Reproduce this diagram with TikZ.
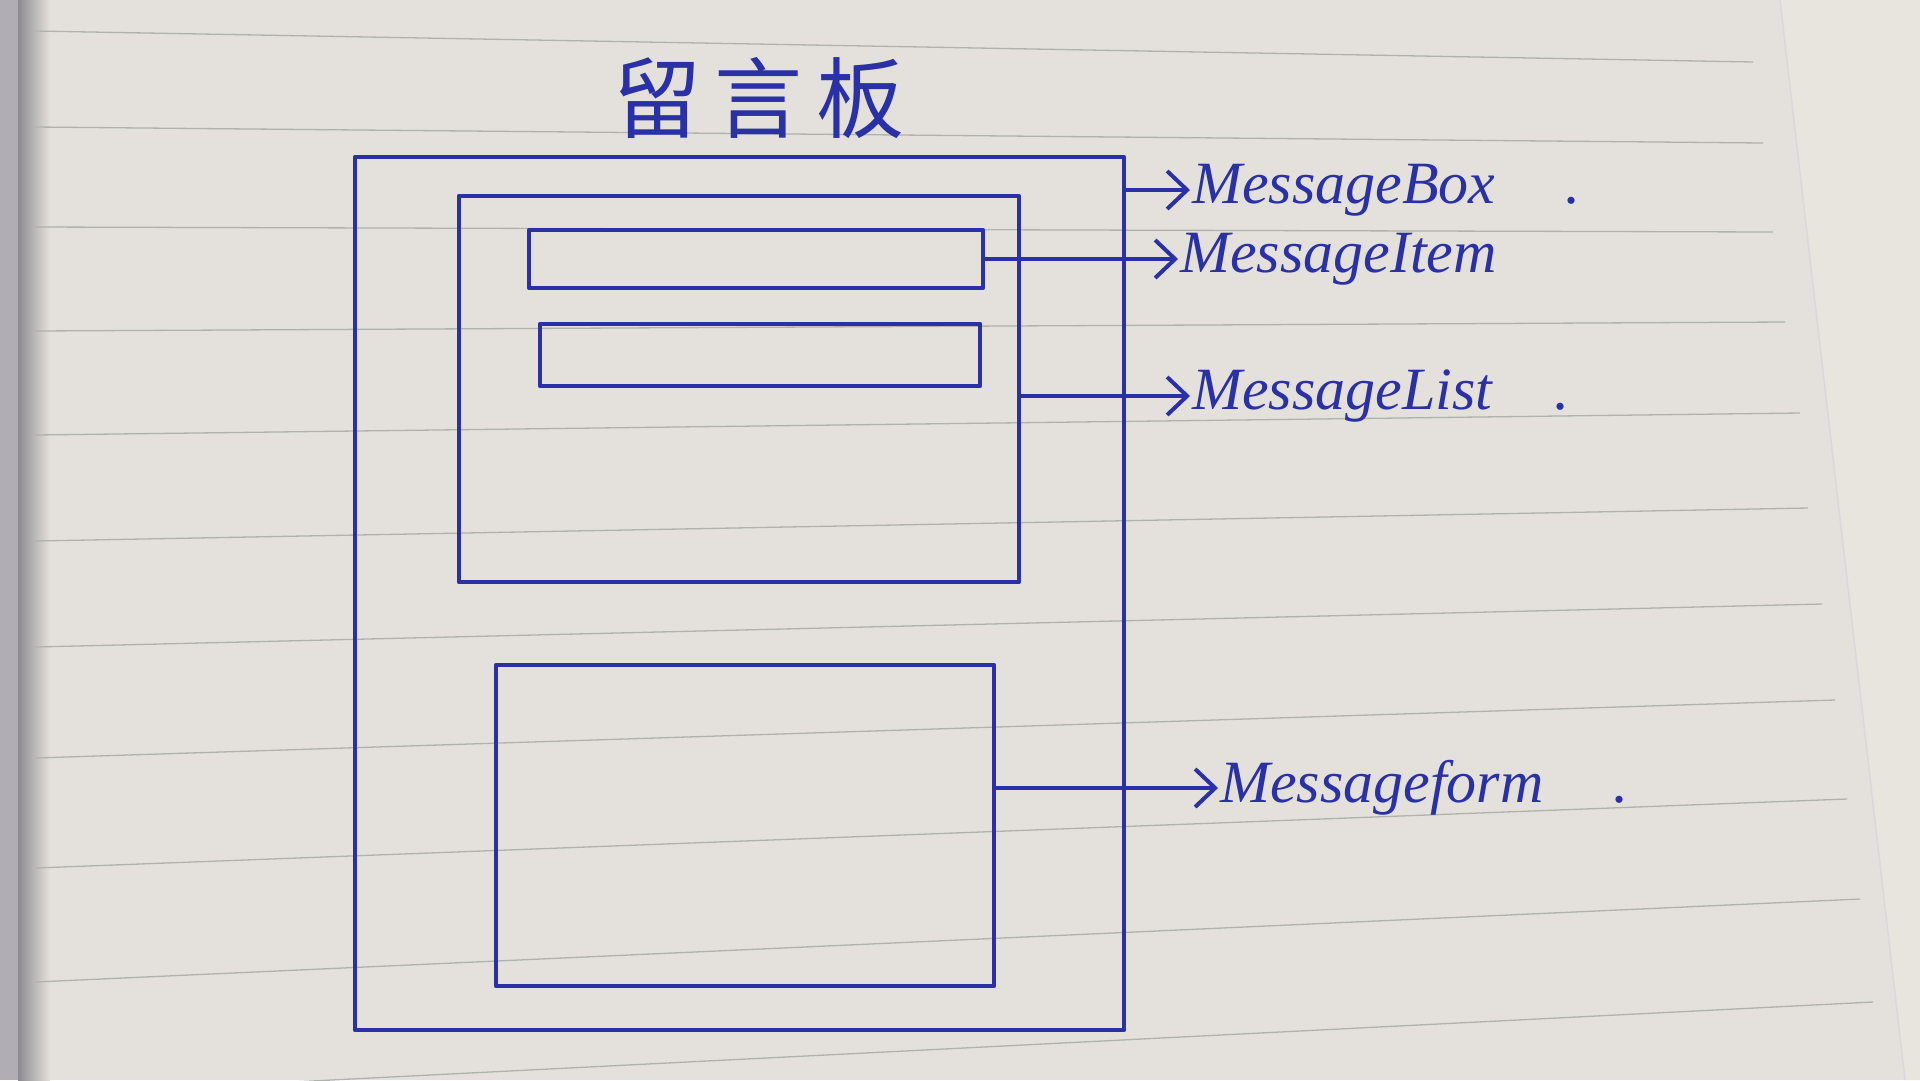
\documentclass[tikz,border=0pt]{standalone}
\usepackage{fontspec}
\setmainfont{Liberation Serif}
\newfontfamily\cjkfont{Noto Sans CJK SC}
\usetikzlibrary{arrows.meta,calc}
\definecolor{ink}{HTML}{2A30A6}
\definecolor{paper}{HTML}{E4E1DC}
\definecolor{paperR}{HTML}{E8E4DE}
\definecolor{rulecol}{HTML}{AEB4AD}
\definecolor{bindcol}{HTML}{B0AEB4}
\definecolor{shadowcol}{HTML}{8E8B90}
\begin{document}
\begin{tikzpicture}[x=1pt,y=-1pt,
  inkbox/.style={draw=ink, line width=4.2pt, inner sep=0pt, line join=round},
  conn/.style={draw=ink, line width=4pt, line cap=round,
    -{Straight Barb[length=20pt,width=38pt,line width=4pt]}},
  lbl/.style={text=ink, font=\fontsize{60}{62}\selectfont\itshape, anchor=west, inner sep=2pt},
  ruled/.style={draw=rulecol, line width=1.3pt}]
% paper
\fill[paper] (0,0) rectangle (1920,1080);
\useasboundingbox (0,0) rectangle (1920,1080);
\fill[paperR] (1780,0) -- (1920,0) -- (1920,1080) -- (1905,1080) -- cycle;
\draw[color=black!15, line width=1.5pt] (1780,0) -- (1905,1080);
\fill[bindcol] (0,0) rectangle (22,1080);
\shade[left color=shadowcol, right color=paper] (18,0) rectangle (50,1080);
% ruled lines
\foreach \a/\b/\e in {31/62/1753, 127/143/1763, 227/232/1773, 331/322/1785,
  435/413/1800, 541/508/1808, 647/604/1822, 758/700/1835, 868/799/1847,
  982/899/1860, 1095/1002/1873}
  \draw[ruled] (35,\a) -- (\e,\b);
% title
\node[text=ink, font=\cjkfont\fontsize{88}{90}\selectfont] (title) at (759,98)
  {留\hspace{14pt}言\hspace{14pt}板};
% boxes
\node[inkbox, minimum width=769pt, minimum height=873pt] (msgbox) at (739.5,593.5) {};
\node[inkbox, minimum width=560pt, minimum height=386pt] (msglist) at (739,389) {};
\node[inkbox, minimum width=454pt, minimum height=58pt] (item1) at (756,259) {};
\node[inkbox, minimum width=440pt, minimum height=62pt] (item2) at (760,355) {};
\node[inkbox, minimum width=498pt, minimum height=321pt] (msgform) at (745,825.5) {};
% labels
\node[lbl] (lbox) at (1190,190) {MessageBox\hspace{70pt}.};
\node[lbl] (litem) at (1178,259) {MessageItem};
\node[lbl] (llist) at (1190,396) {MessageList\hspace{62pt}.};
\node[lbl] (lform) at (1218,788) {Messageform\hspace{70pt}.};
% connectors
\draw[conn] (msgbox.east |- lbox.west) -- (lbox.west);
\draw[conn] (item1.east) -- (litem.west);
\draw[conn] (msglist.east |- llist.west) -- (llist.west);
\draw[conn] (msgform.east |- lform.west) -- (lform.west);
\end{tikzpicture}
\end{document}
